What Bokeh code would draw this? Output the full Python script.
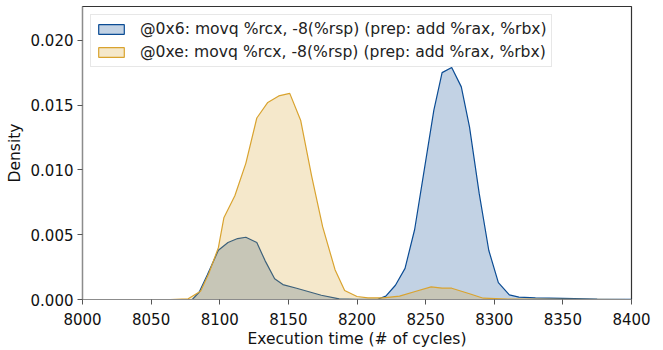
from bokeh.plotting import figure
from bokeh.models import Range1d, FixedTicker, Legend, LegendItem
from bokeh.embed import file_html
from bokeh.resources import INLINE

# Execution time (cycles) and density for each series
x_blue = [8000, 8080, 8085, 8091, 8099, 8106, 8113, 8119, 8127, 8133, 8140, 8146, 8156,
          8165, 8174, 8187, 8200, 8215, 8221, 8228, 8235, 8242, 8249, 8256, 8262, 8269,
          8276, 8282, 8289, 8296, 8303, 8311, 8318, 8330, 8350, 8375, 8400]
d_blue = [0.0, 0.0, 0.00056, 0.0019, 0.0038, 0.0044, 0.0047, 0.0048, 0.0044, 0.0030,
          0.0016, 0.00115, 0.00087, 0.0006, 0.00033, 0.00005, 0.00002, 0.00002, 0.00026,
          0.0011, 0.0024, 0.0054, 0.0100, 0.0146, 0.0175, 0.0179, 0.0164, 0.0133, 0.0082,
          0.0038, 0.0013, 0.00036, 0.00018, 0.00012, 0.00008, 0.00004, 0.00002]

x_gold = [8000, 8064, 8077, 8086, 8092, 8099, 8103, 8111, 8119, 8127, 8135, 8143, 8151,
          8159, 8167, 8175, 8184, 8191, 8200, 8208, 8219, 8231, 8243, 8254, 8262, 8269,
          8282, 8292, 8310, 8400]
d_gold = [0.0, 0.0, 0.00005, 0.00064, 0.0020, 0.0040, 0.0063, 0.0080, 0.0105, 0.0140,
          0.0152, 0.0157, 0.0159, 0.0138, 0.0095, 0.0056, 0.0023, 0.0007, 0.00023,
          0.00013, 0.00013, 0.00026, 0.00064, 0.00097, 0.00087, 0.00087, 0.00044,
          0.0001, 0.00003, 0.0]

labels = ["@0x6: movq %rcx, -8(%rsp) (prep: add %rax, %rbx)",
          "@0xe: movq %rcx, -8(%rsp) (prep: add %rax, %rbx)"]
x_ticks = [8000, 8050, 8100, 8150, 8200, 8250, 8300, 8350, 8400]
y_ticks = [0.0, 0.005, 0.010, 0.015, 0.020]
y_tick_labels = {0.0: "0.000", 0.005: "0.005", 0.010: "0.010", 0.015: "0.015", 0.020: "0.020"}

BLUE = "#0b4c94"
GOLD = "#d9a32f"
FONT = "DejaVu Sans"

p = figure(width=663, height=350, output_backend="svg", toolbar_location=None,
           x_range=Range1d(8000, 8400), y_range=Range1d(0, 0.0226),
           min_border_left=82, min_border_right=32, min_border_top=6, min_border_bottom=49)
p.grid.visible = False
p.outline_line_color = "#333333"
p.outline_line_width = 1.2

r1 = p.patch(x_blue + [x_blue[-1], x_blue[0]], d_blue + [0, 0], fill_color=BLUE,
             fill_alpha=0.25, line_color=BLUE, line_width=1.2)
r2 = p.patch(x_gold + [x_gold[-1], x_gold[0]], d_gold + [0, 0], fill_color=GOLD,
             fill_alpha=0.25, line_color=GOLD, line_width=1.2)

legend = Legend(items=[LegendItem(label=labels[0], renderers=[r1]),
                       LegendItem(label=labels[1], renderers=[r2])],
                location="top_left")
legend.label_text_font = FONT
legend.label_text_font_size = "15.6px"
legend.label_text_color = "#222222"
legend.border_line_color = "#d0d0d0"
legend.border_line_width = 1
legend.background_fill_alpha = 0.85
legend.margin = 8
legend.padding = 4
legend.spacing = 3
legend.label_height = 20
legend.glyph_width = 32
legend.glyph_height = 12
legend.label_standoff = 13
p.add_layout(legend)

for ax in (p.xaxis[0], p.yaxis[0]):
    ax.major_label_text_font = FONT
    ax.major_label_text_font_size = "15px"
    ax.major_label_text_color = "#111111"
    ax.axis_label_text_font = FONT
    ax.axis_label_text_font_size = "15.5px"
    ax.axis_label_text_font_style = "normal"
    ax.axis_label_text_color = "#111111"
    ax.axis_line_color = "#8c8c8c"
    ax.axis_line_width = 1.2
    ax.major_tick_line_color = "#555555"
    ax.major_tick_in = 0
    ax.major_tick_out = 5
    ax.minor_tick_line_color = None

p.xaxis.ticker = FixedTicker(ticks=x_ticks)
p.yaxis.ticker = FixedTicker(ticks=y_ticks)
p.yaxis.major_label_overrides = y_tick_labels
p.xaxis.axis_label = "Execution time (# of cycles)"
p.yaxis.axis_label = "Density"
p.xaxis.major_label_standoff = 8
p.xaxis.axis_label_standoff = 2
p.yaxis.major_label_standoff = 4
p.yaxis.axis_label_standoff = 4

open("out.html", "w").write(file_html(p, INLINE))
